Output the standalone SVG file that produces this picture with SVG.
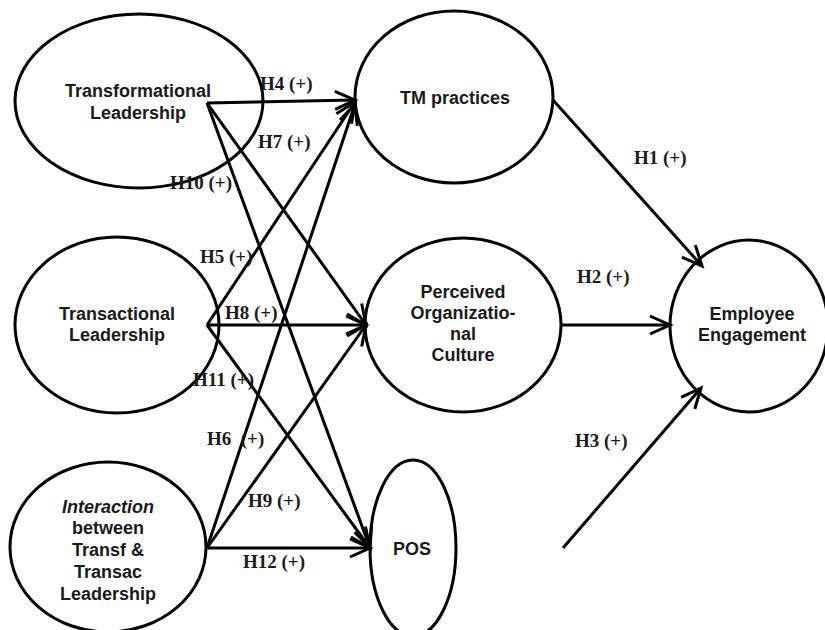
<svg xmlns="http://www.w3.org/2000/svg" width="825" height="630" viewBox="0 0 825 630">
<style>
.node ellipse{fill:#fff;stroke:#000;stroke-width:3}
.node text{font-family:"Liberation Sans",Arial,sans-serif;font-weight:bold;font-size:18px;fill:#1a1a1a;text-anchor:middle}
.edges line{stroke:#000;stroke-width:3;marker-end:url(#arr)}
.lbl{font-family:"Liberation Serif","Times New Roman",serif;font-weight:bold;font-size:19px;fill:#1a1a1a}
</style>
<defs>
<marker id="arr" markerUnits="userSpaceOnUse" viewBox="-24 -14 28 28" refX="0" refY="0" markerWidth="28" markerHeight="28" orient="auto">
<path d="M-20,-9 L0,0 L-20,9" fill="none" stroke="#000" stroke-width="3"/>
</marker>
</defs>
<rect width="825" height="630" fill="#fff"/>
<g id="transformational" class="node">
<ellipse cx="139" cy="101" rx="124" ry="87"/>
<text x="138" y="97">Transformational</text>
<text x="138" y="119">Leadership</text>
</g>
<g id="transactional" class="node">
<ellipse cx="117" cy="325" rx="102" ry="88"/>
<text x="117" y="320">Transactional</text>
<text x="117" y="341">Leadership</text>
</g>
<g id="interaction" class="node">
<ellipse cx="108" cy="547" rx="98" ry="85"/>
<text x="108" y="513" font-style="italic">Interaction</text>
<text x="108" y="534">between</text>
<text x="108" y="556">Transf &amp;</text>
<text x="108" y="578">Transac</text>
<text x="108" y="600">Leadership</text>
</g>
<g id="tm" class="node">
<ellipse cx="454" cy="97" rx="99" ry="86"/>
<text x="455" y="104">TM practices</text>
</g>
<g id="poc" class="node">
<ellipse cx="463" cy="325" rx="98" ry="87"/>
<text x="463" y="298">Perceived</text>
<text x="463" y="319">Organizatio-</text>
<text x="463" y="340">nal</text>
<text x="463" y="361">Culture</text>
</g>
<g id="pos" class="node">
<ellipse cx="413" cy="548" rx="43" ry="88"/>
<text x="412" y="555">POS</text>
</g>
<g id="engagement" class="node">
<ellipse cx="749" cy="326" rx="79" ry="86"/>
<text x="752" y="320">Employee</text>
<text x="752" y="341">Engagement</text>
</g>
<g id="connectors" class="edges">
<line x1="207" y1="103" x2="355" y2="100"/>
<line x1="207" y1="103" x2="366" y2="325"/>
<line x1="207" y1="103" x2="370" y2="548"/>
<line x1="207" y1="325" x2="355" y2="102"/>
<line x1="207" y1="325" x2="366" y2="325"/>
<line x1="207" y1="325" x2="370" y2="548"/>
<line x1="207" y1="548" x2="355" y2="104"/>
<line x1="207" y1="548" x2="366" y2="325"/>
<line x1="207" y1="548" x2="370" y2="548"/>
<line x1="553" y1="100" x2="702" y2="266"/>
<line x1="560" y1="325" x2="670" y2="325"/>
<line x1="563" y1="548" x2="701" y2="388"/>
</g>
<g id="labels">
<text class="lbl" x="260" y="90">H4 (+)</text>
<text class="lbl" x="258" y="148">H7 (+)</text>
<text class="lbl" x="170" y="189">H10 (+)</text>
<text class="lbl" x="200" y="263">H5 (+)</text>
<text class="lbl" x="225" y="319">H8 (+)</text>
<text class="lbl" x="193" y="386">H11 (+)</text>
<text class="lbl" x="207" y="445" xml:space="preserve">H6  (+)</text>
<text class="lbl" x="248" y="507">H9 (+)</text>
<text class="lbl" x="243" y="568">H12 (+)</text>
<text class="lbl" x="634" y="164">H1 (+)</text>
<text class="lbl" x="577" y="283">H2 (+)</text>
<text class="lbl" x="575" y="447">H3 (+)</text>
</g>
</svg>
